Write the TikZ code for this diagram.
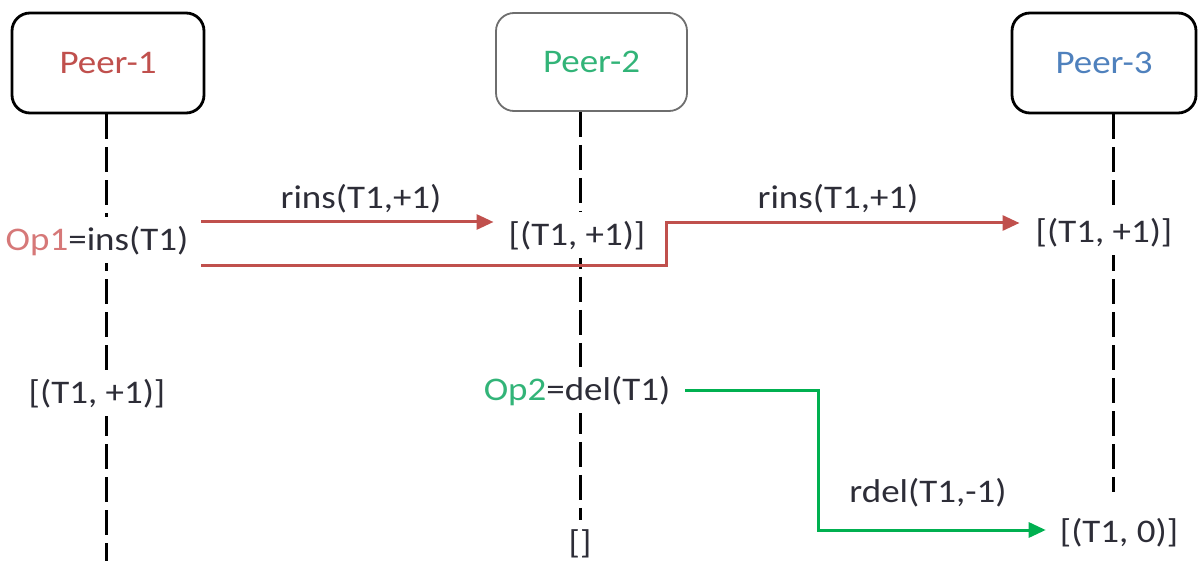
\documentclass[tikz,border=0pt]{standalone}
\usepackage{fontspec}
\setmainfont{Carlito}[FakeStretch=1.12]
\usetikzlibrary{arrows.meta,calc}
\definecolor{peerred}{RGB}{192,80,77}
\definecolor{opred}{RGB}{214,120,120}
\definecolor{peergreen}{RGB}{50,180,120}
\definecolor{arrowgreen}{RGB}{0,176,80}
\definecolor{peerblue}{RGB}{79,129,189}
\definecolor{txt}{RGB}{45,45,55}
\definecolor{boxgray}{RGB}{110,110,110}

\begin{document}
\begin{tikzpicture}[x=1pt,y=-1pt,
  every node/.style={font=\fontsize{33}{40}\selectfont, text=txt,
    text height=21.3pt, text depth=0pt},
  peerbox/.style={draw=black, line width=2.8pt, rounded corners=18pt,
    minimum width=192pt, minimum height=100pt, fill=white},
  lifeline/.style={draw=black, line width=3pt, dash pattern=on 25pt off 8pt},
  state/.style={fill=white, inner xsep=4pt, inner ysep=12pt},
  msg/.style={inner sep=0pt},
  redarrow/.style={draw=peerred, line width=3pt,
    -{Triangle[length=17pt,width=15pt]}},
  greenarrow/.style={draw=arrowgreen, line width=3pt,
    -{Triangle[length=17pt,width=15pt]}}
]
\useasboundingbox (0,0) rectangle (1198,561);

% peers
\node[peerbox, text=peerred] (p1) at (108,63) {Peer-1};
\node[peerbox, draw=boxgray, line width=1.8pt, text=peergreen,
      minimum width=191pt, minimum height=98pt] (p2) at (591.5,62) {Peer-2};
\node[peerbox, text=peerblue, minimum width=184pt] (p3) at (1104,63) {Peer-3};

% lifelines
\coordinate (l1) at (106,561);
\coordinate (l2) at (580,530);
\coordinate (l3) at (1113,492);
\draw[lifeline] (p1.south -| l1) -- (l1);
\draw[lifeline] (p2.south -| l2) -- (l2);
\draw[lifeline] (p3.south -| l3) -- (l3);

% operations and states
\node[state] (op1) at (97,240) {\textcolor{opred}{Op1}=ins(T1)};
\node[state] (q2) at (577,235) {[(T1, +1)]};
\node[state] (q3) at (1104,232) {[(T1, +1)]};
\node[state] (q1) at (97,393) {[(T1, +1)]};
\node[state] (op2) at (577,390) {\textcolor{peergreen}{Op2}=del(T1)};
\node[state] (q4) at (1119,532) {[(T1, 0)]};
\node[state] (q5) at (580,543) {[]};

% message labels
\node[msg] (m1) at (361,198) {rins(T1,+1)};
\node[msg] (m2) at (838,198) {rins(T1,+1)};
\node[msg] (m3) at (928,492) {rdel(T1,-1)};

% messages
\coordinate (ya) at (0,222);
\coordinate (yb) at (0,265);
\coordinate (yc) at (0,223);
\coordinate (yd) at (0,530);
\coordinate (bendA) at (666,245);
\coordinate (bendB) at (818,460);

\draw[redarrow] ($(op1.east |- ya)+(9,0)$) -- ($(q2.west |- ya)+(-11,0)$);
\draw[redarrow] ($(op1.east |- yb)+(9,0)$) -| (bendA) |- ($(q3.west |- yc)+(-12,0)$);
\draw[greenarrow] ($(op2.east)+(11,0)$) -| (bendB) |- ($(q4.west |- yd)+(-10,0)$);
\end{tikzpicture}
\end{document}
